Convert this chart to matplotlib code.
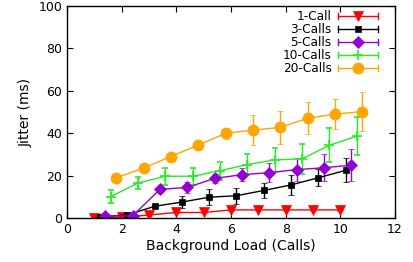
import matplotlib
matplotlib.use("Agg")
import matplotlib.pyplot as plt
from matplotlib.legend_handler import HandlerLine2D
from matplotlib.lines import Line2D

series_names = ["1-Call", "3-Calls", "5-Calls", "10-Calls", "20-Calls"]

x_1 = [1, 2, 3, 4, 5, 6, 7, 8, 9, 10]
y_1 = [0.0, 0.3, 1.4, 2.6, 2.6, 3.8, 3.8, 3.8, 3.8, 3.8]
e_1 = [0.3, 0.3, 0.3, 0.3, 0.3, 0.3, 0.3, 0.3, 0.3, 0.3]

x_3 = [1.2, 2.2, 3.2, 4.2, 5.2, 6.2, 7.2, 8.2, 9.2, 10.2]
y_3 = [0.5, 1.4, 5.5, 7.5, 9.8, 10.5, 13.0, 15.6, 19.0, 22.5]
e_3 = [0.5, 0.6, 1.0, 2.7, 3.9, 3.7, 3.5, 4.7, 4.0, 5.7]

x_5 = [1.4, 2.4, 3.4, 4.4, 5.4, 6.4, 7.4, 8.4, 9.4, 10.4]
y_5 = [1.0, 1.0, 13.5, 14.4, 18.7, 20.4, 21.4, 22.8, 23.7, 24.9]
e_5 = [0.5, 0.5, 1.5, 2.6, 2.0, 3.0, 4.5, 5.4, 6.4, 7.5]

x_10 = [1.6, 2.6, 3.6, 4.6, 5.6, 6.6, 7.6, 8.6, 9.6, 10.6]
y_10 = [10.1, 16.5, 19.7, 19.7, 22.3, 25.2, 27.4, 27.9, 34.3, 38.6]
e_10 = [3.0, 3.0, 4.1, 4.1, 4.3, 5.1, 5.6, 7.0, 8.0, 9.0]

x_20 = [1.8, 2.8, 3.8, 4.8, 5.8, 6.8, 7.8, 8.8, 9.8, 10.8]
y_20 = [19.0, 23.5, 29.0, 34.4, 39.9, 41.5, 42.7, 47.0, 49.0, 50.2]
e_20 = [1.0, 1.0, 1.5, 1.5, 2.5, 6.9, 8.0, 7.5, 7.2, 9.3]

xs = [x_1, x_3, x_5, x_10, x_20]
ys = [y_1, y_3, y_5, y_10, y_20]
es = [e_1, e_3, e_5, e_10, e_20]
colors = ["#ff0000", "#000000", "#9400d3", "#22ee22", "#ffa500"]
markers = ["v", "s", "D", "+", "o"]
msizes = [6.5, 4.8, 5.8, 7.5, 8]

x_ticks = [0, 2, 4, 6, 8, 10, 12]
y_ticks = [0, 20, 40, 60, 80, 100]


class HandlerCapLine(HandlerLine2D):
    def create_artists(self, legend, orig_handle, xdescent, ydescent,
                       width, height, fontsize, trans):
        arts = super().create_artists(legend, orig_handle, xdescent, ydescent,
                                      width, height, fontsize, trans)
        yc = height / 2.0 - ydescent
        cap = height * 0.3
        c = orig_handle.get_color()
        for xx in (-xdescent, -xdescent + width):
            l = Line2D([xx, xx], [yc - cap, yc + cap], color=c, lw=1.0)
            l.set_transform(trans)
            arts.append(l)
        return arts


fig = plt.figure(figsize=(4.14, 2.62), dpi=100)
ax = fig.add_axes([0.162, 0.168, 0.792, 0.809])

handles = []
for name, x, y, e, c, m, ms in zip(series_names, xs, ys, es, colors, markers, msizes):
    ax.errorbar(x, y, yerr=e, color=c, marker=m, markersize=ms, lw=1.0,
                elinewidth=1.0, capsize=2.5, capthick=1.0,
                markeredgewidth=1.2 if m == "+" else 0.5)
    handles.append(Line2D([], [], color=c, marker=m, markersize=ms, lw=1.0,
                          markeredgewidth=1.2 if m == "+" else 0.5, label=name))

ax.set_xlim(0, 12)
ax.set_ylim(0, 100)
ax.set_xticks(x_ticks)
ax.set_yticks(y_ticks)
ax.tick_params(direction="in", top=True, right=True, length=4, labelsize=9, width=0.8)
for s in ax.spines.values():
    s.set_linewidth(1.0)
ax.set_xlabel("Background Load (Calls)", fontsize=10, labelpad=2)
ax.set_ylabel("Jitter (ms)", fontsize=10, labelpad=4)

leg = ax.legend(handles=handles, loc="upper right", markerfirst=False,
                frameon=False, fontsize=8.7, handlelength=3.3, handletextpad=0.5,
                labelspacing=0.0, borderaxespad=0.0, borderpad=0.35,
                bbox_to_anchor=(0.96, 1.0),
                handler_map={Line2D: HandlerCapLine(numpoints=1)})

fig.savefig("out.png", dpi=100)
